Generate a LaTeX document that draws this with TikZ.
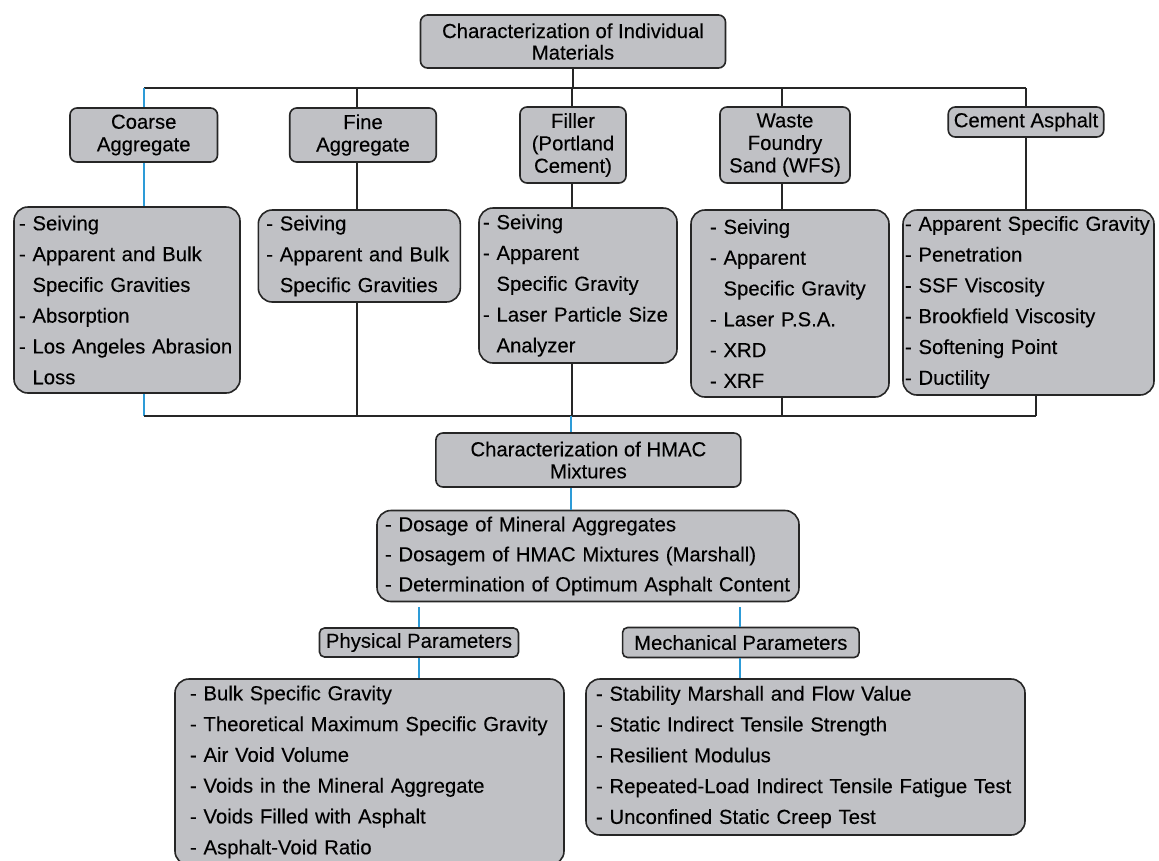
\documentclass[tikz,border=0pt]{standalone}
\usepackage{fontspec}
\setmainfont{Liberation Sans}[FakeBold=0.2]
\definecolor{boxgray}{RGB}{192,193,197}
\definecolor{linkblue}{RGB}{45,155,215}
\newcommand{\contline}{\hphantom{- }}

\begin{document}
\begin{tikzpicture}[
  x=1pt, y=-1pt,
  box/.style={draw=black!85, fill=boxgray, line width=1.6pt, rounded corners=7pt,
    inner sep=0pt, align=center, font=\fontsize{20.3}{22.5}\selectfont},
  list/.style={box, rounded corners=14pt, align=left, font=\fontsize{20.3}{30.8}\selectfont},
  link/.style={line width=1.6pt, black!85},
  bluelink/.style={line width=1.6pt, linkblue}
]
  \useasboundingbox (0,0) rectangle (1159,860);

  \node[box, minimum width=305pt, minimum height=53pt, font=\fontsize{20.3}{21.5}\selectfont] (top) at (573,41.5)
    {Characterization of Individual\\Materials};

  \node[box, minimum width=147.5pt, minimum height=54pt] (coarse) at (143.75,135) {Coarse\\Aggregate};
  \node[box, minimum width=146.5pt, minimum height=54pt] (fine) at (363,135) {Fine\\Aggregate};
  \node[box, minimum width=106pt, minimum height=76pt] (filler) at (573,145) {Filler\\(Portland\\Cement)};
  \node[box, minimum width=130pt, minimum height=76pt] (wfs) at (785,145) {Waste\\Foundry\\Sand (WFS)};
  \node[box, minimum width=155.5pt, minimum height=30pt] (cement) at (1026,122) {Cement Asphalt};

  \node[list, text width=216pt, inner xsep=5pt, minimum height=186pt] (coarseL) at (127,300)
    {- Seiving\\- Apparent and Bulk\\\contline Specific Gravities\\- Absorption\\- Los Angeles Abrasion\\\contline Loss};
  \node[list, text width=186pt, inner xsep=8pt, minimum height=92pt] (fineL) at (359.3,256)
    {- Seiving\\- Apparent and Bulk\\\contline Specific Gravities};
  \node[list, text width=190pt, inner xsep=4pt, minimum height=155pt] (fillerL) at (578,285.5)
    {- Seiving\\- Apparent\\\contline Specific Gravity\\- Laser Particle Size\\\contline Analyzer};
  \node[list, text width=160pt, inner xsep=19pt, minimum height=187pt] (wfsL) at (790,303.5)
    {- Seiving\\- Apparent\\\contline Specific Gravity\\- Laser P.S.A.\\- XRD\\- XRF};
  \node[list, text width=247pt, inner xsep=2pt, minimum height=185pt] (cementL) at (1028.5,302.5)
    {- Apparent Specific Gravity\\- Penetration\\- SSF Viscosity\\- Brookfield Viscosity\\- Softening Point\\- Ductility};

  \node[box, minimum width=305pt, minimum height=54pt, font=\fontsize{20.3}{22}\selectfont] (hmac) at (588.4,460)
    {Characterization of HMAC\\Mixtures};
  \node[list, text width=406pt, inner xsep=8pt, minimum height=91pt, font=\fontsize{20.3}{30}\selectfont] (dosage) at (588,556)
    {- Dosage of Mineral Aggregates\\- Dosagem of HMAC Mixtures (Marshall)\\- Determination of Optimum Asphalt Content};

  \node[box, minimum width=199pt, minimum height=29pt, rounded corners=5pt] (phys) at (419,642.5) {Physical Parameters};
  \node[box, minimum width=236.5pt, minimum height=30pt, rounded corners=5pt] (mech) at (740.8,642.5) {Mechanical Parameters};

  \node[list, text width=359pt, inner xsep=15pt, minimum height=186pt] (physL) at (369.5,772)
    {- Bulk Specific Gravity\\- Theoretical Maximum Specific Gravity\\- Air Void Volume\\- Voids in the Mineral Aggregate\\- Voids Filled with Asphalt\\- Asphalt-Void Ratio};
  \node[list, text width=419pt, inner xsep=10pt, minimum height=156pt] (mechL) at (805.5,757)
    {- Stability Marshall and Flow Value\\- Static Indirect Tensile Strength\\- Resilient Modulus\\- Repeated-Load Indirect Tensile Fatigue Test\\- Unconfined Static Creep Test};

  \coordinate (busT) at (0,88);
  \coordinate (busB) at (0,416);
  \coordinate (cA) at (144,0);
  \coordinate (cB) at (357,0);
  \coordinate (cC) at (572,0);
  \coordinate (cD) at (782,0);
  \coordinate (cE) at (1026,0);
  \coordinate (cF) at (1036,0);
  \coordinate (cG) at (571,0);
  \coordinate (cH) at (419,0);
  \coordinate (cI) at (740,0);

  \draw[link] (top) -- (top |- busT);
  \draw[link] (cA |- busT) -- (cE |- busT);
  \draw[bluelink] (cA |- busT) -- (coarse.north -| cA)
    (coarse.south -| cA) -- (coarseL.north -| cA)
    (coarseL.south -| cA) -- (cA |- busB);
  \foreach \c/\h/\l in {cB/fine/fineL, cC/filler/fillerL, cD/wfs/wfsL}
    \draw[link] (\c |- busT) -- (\h.north -| \c)
      (\h.south -| \c) -- (\l.north -| \c)
      (\l.south -| \c) -- (\c |- busB);
  \draw[link] (cE |- busT) -- (cement.north -| cE)
    (cement.south -| cE) -- (cementL.north -| cE)
    (cementL.south -| cF) -- (cF |- busB);
  \draw[link] (cA |- busB) -- (cF |- busB);

  \draw[bluelink] (cG |- busB) -- (hmac.north -| cG)
    (hmac.south -| cG) -- (dosage.north -| cG);
  \foreach \c/\h/\l in {cH/phys/physL, cI/mech/mechL} {
    \draw[bluelink, shorten <=5pt] (dosage.south -| \c) -- (\h.north -| \c);
    \draw[bluelink] (\h.south -| \c) -- (\l.north -| \c);
  }
\end{tikzpicture}
\end{document}
